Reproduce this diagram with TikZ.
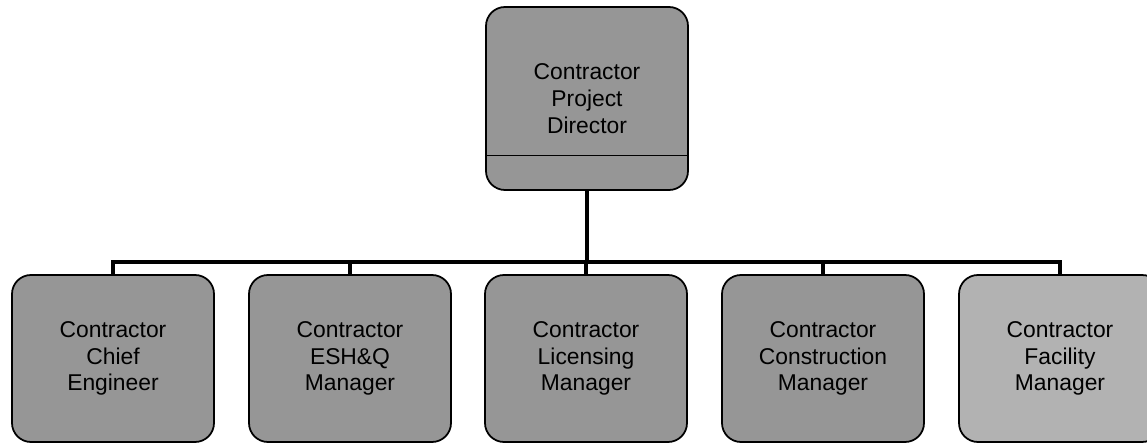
\documentclass[tikz,border=0pt]{standalone}
\usepackage{fontspec}
\setmainfont{Liberation Sans}
\usepackage{tikz}
\usetikzlibrary{positioning, calc}
\definecolor{boxgray}{RGB}{150,150,150}
\definecolor{lightgray}{RGB}{178,178,178}

\begin{document}
\begin{tikzpicture}[
    role/.style={draw, line width=1pt, rectangle, rounded corners=0.38cm, fill=boxgray,
      align=center, minimum width=4.04cm, minimum height=3.34cm, inner sep=0pt,
      font=\fontsize{13}{15.3}\selectfont},
    conn/.style={line width=2.2pt}
  ]
  \useasboundingbox (0,0) rectangle (22.94,8.86);

  % Org chart
  \node[role, minimum height=3.66cm] (director) at (11.74,6.89) {Contractor\\Project\\Director};
  \draw[line width=0.6pt] ([yshift=0.7cm]director.south west) -- ([yshift=0.7cm]director.south east);

  \node[role] (chief) at (2.26,1.69) {Contractor\\Chief\\Engineer};
  \node[role] (eshq) at (7.0,1.69) {Contractor\\ESH\&Q\\Manager};
  \node[role] (licensing) at (11.72,1.69) {Contractor\\Licensing\\Manager};
  \node[role] (construction) at (16.46,1.69) {Contractor\\Construction\\Manager};
  \node[role, fill=lightgray] (facility) at (21.2,1.69) {Contractor\\Facility\\Manager};

  % Lines
  \coordinate (bus) at (11.74,3.62);
  \draw[conn] (director.south) -- (bus);
  \foreach \n in {chief, eshq, licensing, construction, facility}
    \draw[conn] (bus) -| (\n.north);
\end{tikzpicture}
\end{document}
